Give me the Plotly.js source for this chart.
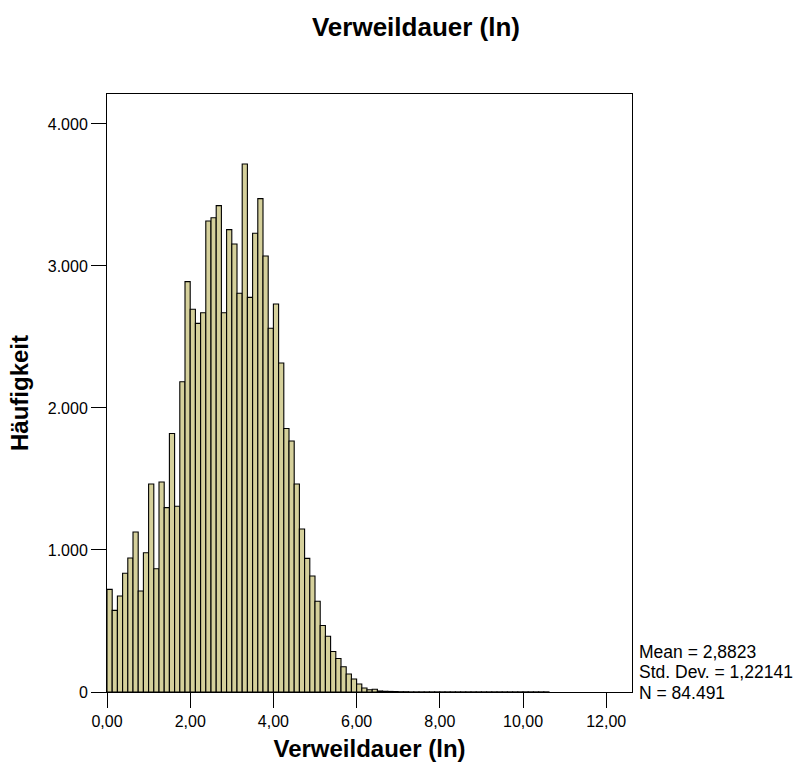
<!DOCTYPE html>
<html>
<head>
<meta charset="utf-8">
<script src="https://cdn.plot.ly/plotly-3.0.1.min.js"></script>
<style>
  html, body { margin: 0; padding: 0; background: #ffffff; }
  #chart { width: 799px; height: 771px; }
</style>
</head>
<body>
<div id="chart"></div>
<script>
// Histogram of Verweildauer (ln): bins of width 0.125 starting at 0
const binStart = 0;
const binWidth = 0.125;
const counts = [
  723, 575, 676, 836, 944, 1127, 711, 981, 1465, 868,
  1479, 1298, 1820, 1308, 2185, 2890, 2695, 2596, 2671, 3317,
  3340, 3425, 2671, 3256, 3155, 2808, 3718, 2779, 3230, 3474,
  3070, 2561, 2732, 2317, 1855, 1768, 1465, 1148, 941, 817,
  639, 468, 393, 285, 236, 178, 127, 92, 56, 28,
  16, 19, 7, 5, 4, 3, 2, 2, 1, 1,
  1, 1, 1, 1, 1, 1, 1, 1, 1, 1,
  1, 1, 1, 1, 1, 1, 1, 1, 1, 1,
  1, 1, 1, 1, 1
];
const xTickVals = [0, 2, 4, 6, 8, 10, 12];
const xTickText = ["0,00", "2,00", "4,00", "6,00", "8,00", "10,00", "12,00"];
const yTickVals = [0, 1000, 2000, 3000, 4000];
const yTickText = ["0", "1.000", "2.000", "3.000", "4.000"];
const statLines = ["Mean = 2,8823", "Std. Dev. = 1,22141", "N = 84.491"];
const chartTitle = "Verweildauer (ln)";
const xTitle = "Verweildauer (ln)";
const yTitle = "Häufigkeit";

const FONT = "Arial, 'Liberation Sans', Helvetica, sans-serif";

const trace = {
  type: "bar",
  x0: binStart + binWidth / 2,
  dx: binWidth,
  y: counts,
  width: binWidth,
  marker: { color: "#d5d09b", line: { color: "#000000", width: 1.1 } },
  hoverinfo: "skip"
};

const statY = [651.5, 672, 692.5];
const plotTop = 94, plotBottom = 692;
const annotations = statLines.map((t, i) => ({
  text: t,
  xref: "paper", yref: "paper",
  x: 1.0095, xanchor: "left",
  y: (plotBottom - statY[i]) / (plotBottom - plotTop), yanchor: "middle",
  showarrow: false,
  font: { family: FONT, size: 17.5, color: "#000000" }
}));

const layout = {
  width: 799, height: 771,
  margin: { l: 107, r: 167, t: 94, b: 79 },
  paper_bgcolor: "#ffffff",
  plot_bgcolor: "#ffffff",
  showlegend: false,
  bargap: 0,
  title: {
    text: "<b>" + chartTitle + "</b>",
    font: { family: FONT, size: 26, color: "#000000" },
    x: 416 / 799, xanchor: "center", xref: "container",
    y: 1 - 27 / 771, yanchor: "middle", yref: "container"
  },
  xaxis: {
    range: [0, 12.62],
    tickvals: xTickVals, ticktext: xTickText,
    ticks: "outside", ticklen: 15, tickwidth: 1, tickcolor: "#000000",
    showline: true, linecolor: "#000000", linewidth: 1, mirror: true,
    showgrid: false, zeroline: false,
    tickfont: { family: FONT, size: 16, color: "#000000" },
    title: { text: "<b>" + xTitle + "</b>", font: { family: FONT, size: 24, color: "#000000" }, standoff: 10 }
  },
  yaxis: {
    range: [0, 4211],
    tickvals: yTickVals, ticktext: yTickText,
    ticks: "outside", ticklen: 15, tickwidth: 1, tickcolor: "#000000",
    showline: true, linecolor: "#000000", linewidth: 1, mirror: true,
    showgrid: false, zeroline: false,
    tickfont: { family: FONT, size: 16, color: "#000000" },
    title: { text: "<b>" + yTitle + "</b>", font: { family: FONT, size: 24, color: "#000000" }, standoff: 12 }
  },
  annotations: annotations
};

Plotly.newPlot("chart", [trace], layout, { staticPlot: true, displayModeBar: false });
</script>
</body>
</html>
